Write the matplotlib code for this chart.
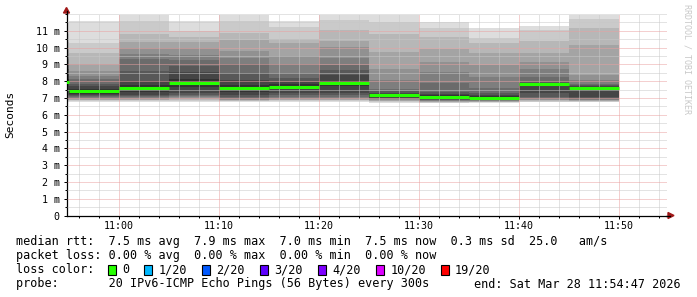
import matplotlib
matplotlib.use("Agg")
import matplotlib.pyplot as plt
import matplotlib.dates as mdates
from matplotlib.ticker import MultipleLocator
from matplotlib.patches import Rectangle, Polygon
from matplotlib.lines import Line2D
import numpy as np
import pandas as pd

# ---------------- data ----------------
day = "2026-03-28"
bin_starts = ["10:50", "10:55", "11:00", "11:05", "11:10", "11:15",
              "11:20", "11:25", "11:30", "11:35", "11:40", "11:45"]
bin_end = "11:50"
view_start = "10:54:47"
view_end = "11:54:47"

# sorted 20 ping RTTs per 5-minute bin (ms)
pings_1050 = [6.75, 6.80, 6.85, 6.90, 6.95, 7.00, 7.10, 7.20, 7.50, 7.85,
              8.10, 8.40, 8.70, 9.00, 9.30, 9.60, 9.90, 10.30, 10.80, 11.50]
pings_1055 = [6.73, 6.80, 6.85, 6.90, 6.95, 7.00, 7.05, 7.10, 7.15, 7.25,
              7.55, 7.70, 7.85, 8.10, 8.30, 8.60, 9.00, 9.68, 10.28, 11.55]
pings_1100 = [6.76, 6.80, 6.85, 6.90, 6.95, 7.00, 7.05, 7.10, 7.20, 7.37,
              7.75, 8.00, 8.60, 9.30, 9.60, 10.00, 10.34, 10.83, 11.57, 11.93]
pings_1105 = [6.73, 6.80, 6.90, 6.95, 7.00, 7.05, 7.10, 7.20, 7.30, 7.62,
              8.10, 8.55, 8.90, 9.25, 9.55, 9.98, 10.34, 10.60, 10.97, 11.57]
pings_1110 = [6.77, 6.80, 6.84, 6.87, 6.90, 6.95, 7.00, 7.05, 7.15, 7.37,
              7.75, 8.05, 8.50, 9.00, 9.40, 9.80, 10.44, 10.89, 11.57, 11.93]
pings_1115 = [6.73, 6.80, 6.85, 6.90, 6.95, 7.00, 7.05, 7.15, 7.30, 7.52,
              7.80, 7.95, 8.20, 8.50, 9.00, 9.50, 10.24, 10.52, 11.25, 11.55]
pings_1120 = [6.77, 6.80, 6.85, 6.90, 6.95, 7.00, 7.06, 7.15, 7.30, 7.72,
              8.00, 8.38, 8.67, 8.97, 9.35, 10.04, 10.38, 11.03, 11.63, 11.93]
pings_1125 = [6.69, 6.75, 6.80, 6.84, 6.88, 6.92, 6.95, 6.98, 7.02, 7.08,
              7.26, 7.32, 7.40, 7.52, 8.06, 8.75, 9.74, 10.83, 11.53, 11.95]
pings_1130 = [6.69, 6.72, 6.75, 6.78, 6.81, 6.84, 6.87, 6.90, 6.93, 6.97,
              7.17, 7.25, 7.36, 7.86, 8.55, 9.15, 9.94, 10.64, 11.14, 11.49]
pings_1135 = [6.72, 6.74, 6.76, 6.78, 6.80, 6.82, 6.85, 6.87, 6.90, 6.92,
              7.10, 7.18, 7.30, 7.56, 8.26, 8.95, 9.70, 10.28, 10.58, 11.17]
pings_1140 = [6.73, 6.78, 6.82, 6.86, 6.90, 6.95, 7.00, 7.05, 7.30, 7.75,
              7.85, 7.90, 7.96, 8.26, 8.75, 9.15, 9.70, 10.38, 11.03, 11.29]
pings_1145 = [6.73, 6.76, 6.80, 6.83, 6.86, 6.90, 6.95, 7.00, 7.06, 7.50,
              7.62, 7.68, 7.76, 7.85, 8.06, 8.36, 10.14, 11.17, 11.69, 11.93]

medians = [7.95, 7.40, 7.56, 7.86, 7.56, 7.66, 7.86, 7.17, 7.07, 7.01, 7.80, 7.56]

y_ticks = list(range(12))
y_tick_labels = ["0", "1 m", "2 m", "3 m", "4 m", "5 m", "6 m",
                 "7 m", "8 m", "9 m", "10 m", "11 m"]
x_tick_labels = ["11:00", "11:10", "11:20", "11:30", "11:40", "11:50"]
y_max = 12.0

loss_labels = ["0", "1/20", "2/20", "3/20", "4/20", "10/20", "19/20"]
loss_colors = ["#26ff00", "#00b8ff", "#0059ff", "#5e00ff", "#7e00ff", "#dd00ff", "#ff0000"]

legend_line1 = "median rtt:  7.5 ms avg  7.9 ms max  7.0 ms min  7.5 ms now  0.3 ms sd  25.0   am/s"
legend_line2 = "packet loss: 0.00 % avg  0.00 % max  0.00 % min  0.00 % now"
legend_line3 = "loss color:"
legend_line4 = "probe:       20 IPv6-ICMP Echo Pings (56 Bytes) every 300s"
legend_end = "end: Sat Mar 28 11:54:47 2026"
watermark = "RRDTOOL / TOBI OETIKER"
y_title = "Seconds"

# ---------------- drawing ----------------
plt.rcParams["font.family"] = ["DejaVu Sans Mono"]

W, H = 697, 297
fig = plt.figure(figsize=(W / 100, H / 100), dpi=100)
fig.patch.set_facecolor("white")

def tnum(t):
    return mdates.date2num(pd.to_datetime(f"{day} {t}"))

ax_left, ax_bottom_px, ax_w, ax_h = 66.5, 215.5, 600.0, 201.6
ax = fig.add_axes([ax_left / W, (H - ax_bottom_px) / H, ax_w / W, ax_h / H])
ax.set_facecolor("white")

starts = np.array([tnum(t) for t in bin_starts])
edges = np.append(starts, tnum(bin_end))
ends = edges[1:]
P = np.sort(np.array([pings_1050, pings_1055, pings_1100, pings_1105, pings_1110,
                      pings_1115, pings_1120, pings_1125, pings_1130, pings_1135,
                      pings_1140, pings_1145]), axis=1)
n = P.shape[1]
half = n // 2
for i in range(half):
    g = int(190 / half * (half - (i + 1))) + 50
    lo = np.append(P[:, i], P[-1, i])
    hi = np.append(P[:, n - 1 - i], P[-1, n - 1 - i])
    ax.fill_between(edges, lo, hi, step="post", color=(g / 255,) * 3,
                    linewidth=0, antialiased=False, zorder=1)

ax.hlines(medians, starts, ends, color=loss_colors[0], lw=2.2, zorder=4)

ax.set_xlim(tnum(view_start), tnum(view_end))
ax.set_ylim(0, y_max)

ax.set_xticks([tnum(t) for t in x_tick_labels], x_tick_labels)
ax.xaxis.set_minor_locator(mdates.MinuteLocator(byminute=range(0, 60, 2)))
ax.set_yticks(y_ticks, y_tick_labels)
ax.yaxis.set_minor_locator(MultipleLocator(0.5))

dot = (0, (1, 1))
ax.grid(which="minor", color="#c8c8c8", linestyle=dot, linewidth=0.72)
ax.grid(which="major", color="#eaa0a0", linestyle=dot, linewidth=0.72)
ax.set_axisbelow(False)

for s in ["top", "right"]:
    ax.spines[s].set_visible(False)
for s in ["left", "bottom"]:
    ax.spines[s].set_color("#000000")
    ax.spines[s].set_linewidth(0.9)

ax.tick_params(axis="both", which="major", length=2.2, width=0.72,
               colors="#000000", labelsize=7.2)
ax.tick_params(axis="both", which="minor", length=1.4, width=0.72, colors="#000000")
ax.tick_params(axis="y", which="major", pad=2.6)
ax.tick_params(axis="x", which="major", pad=2.0)

def fx(x):
    return x / W

def fy(y):
    return 1 - y / H

# axis extensions and arrows
fig.add_artist(Line2D([fx(66.5), fx(66.5)], [fy(14), fy(11)], color="black",
                      lw=0.9, transform=fig.transFigure))
fig.add_artist(Line2D([fx(666), fx(670)], [fy(215.5), fy(215.5)], color="black",
                      lw=0.9, transform=fig.transFigure))
fig.add_artist(Polygon([[fx(63.5), fy(13)], [fx(69.5), fy(13)], [fx(66.5), fy(7.5)]],
                       closed=True, color="#a01818", transform=fig.transFigure))
fig.add_artist(Polygon([[fx(668), fy(212.5)], [fx(668), fy(218.5)], [fx(674), fy(215.5)]],
                       closed=True, color="#a01818", transform=fig.transFigure))

# titles
fig.text(fx(10.5), fy(114), y_title, rotation=90, ha="center", va="center",
         fontsize=8, color="#000000")
fig.text(fx(687), fy(4), watermark, rotation=270, ha="center", va="top",
         fontsize=6, color="#c8c8c8")

# legend
fs = 8.45
cw = 7.06
x0 = 16
rows = [241, 255.3, 269.6, 284]
fig.text(fx(x0), fy(rows[0]), legend_line1, fontsize=fs, va="center", ha="left")
fig.text(fx(x0), fy(rows[1]), legend_line2, fontsize=fs, va="center", ha="left")
fig.text(fx(x0), fy(rows[2]), legend_line3, fontsize=fs, va="center", ha="left")
fig.text(fx(x0), fy(rows[3]), legend_line4, fontsize=fs, va="center", ha="left")
fig.text(fx(681), fy(rows[3]), legend_end, fontsize=fs, va="center", ha="right")

col = 13.0
for lab, c in zip(loss_labels, loss_colors):
    bx = x0 + col * cw
    fig.add_artist(Rectangle((fx(bx), fy(rows[2] + 5)), 8 / W, 10 / H,
                             facecolor=c, edgecolor="black", lw=0.8,
                             transform=fig.transFigure))
    fig.text(fx(x0 + (col + 2) * cw), fy(rows[2]), lab, fontsize=fs,
             va="center", ha="left")
    col += 2 + len(lab) + 2.2

fig.savefig("out.png", dpi=100, facecolor="white")
